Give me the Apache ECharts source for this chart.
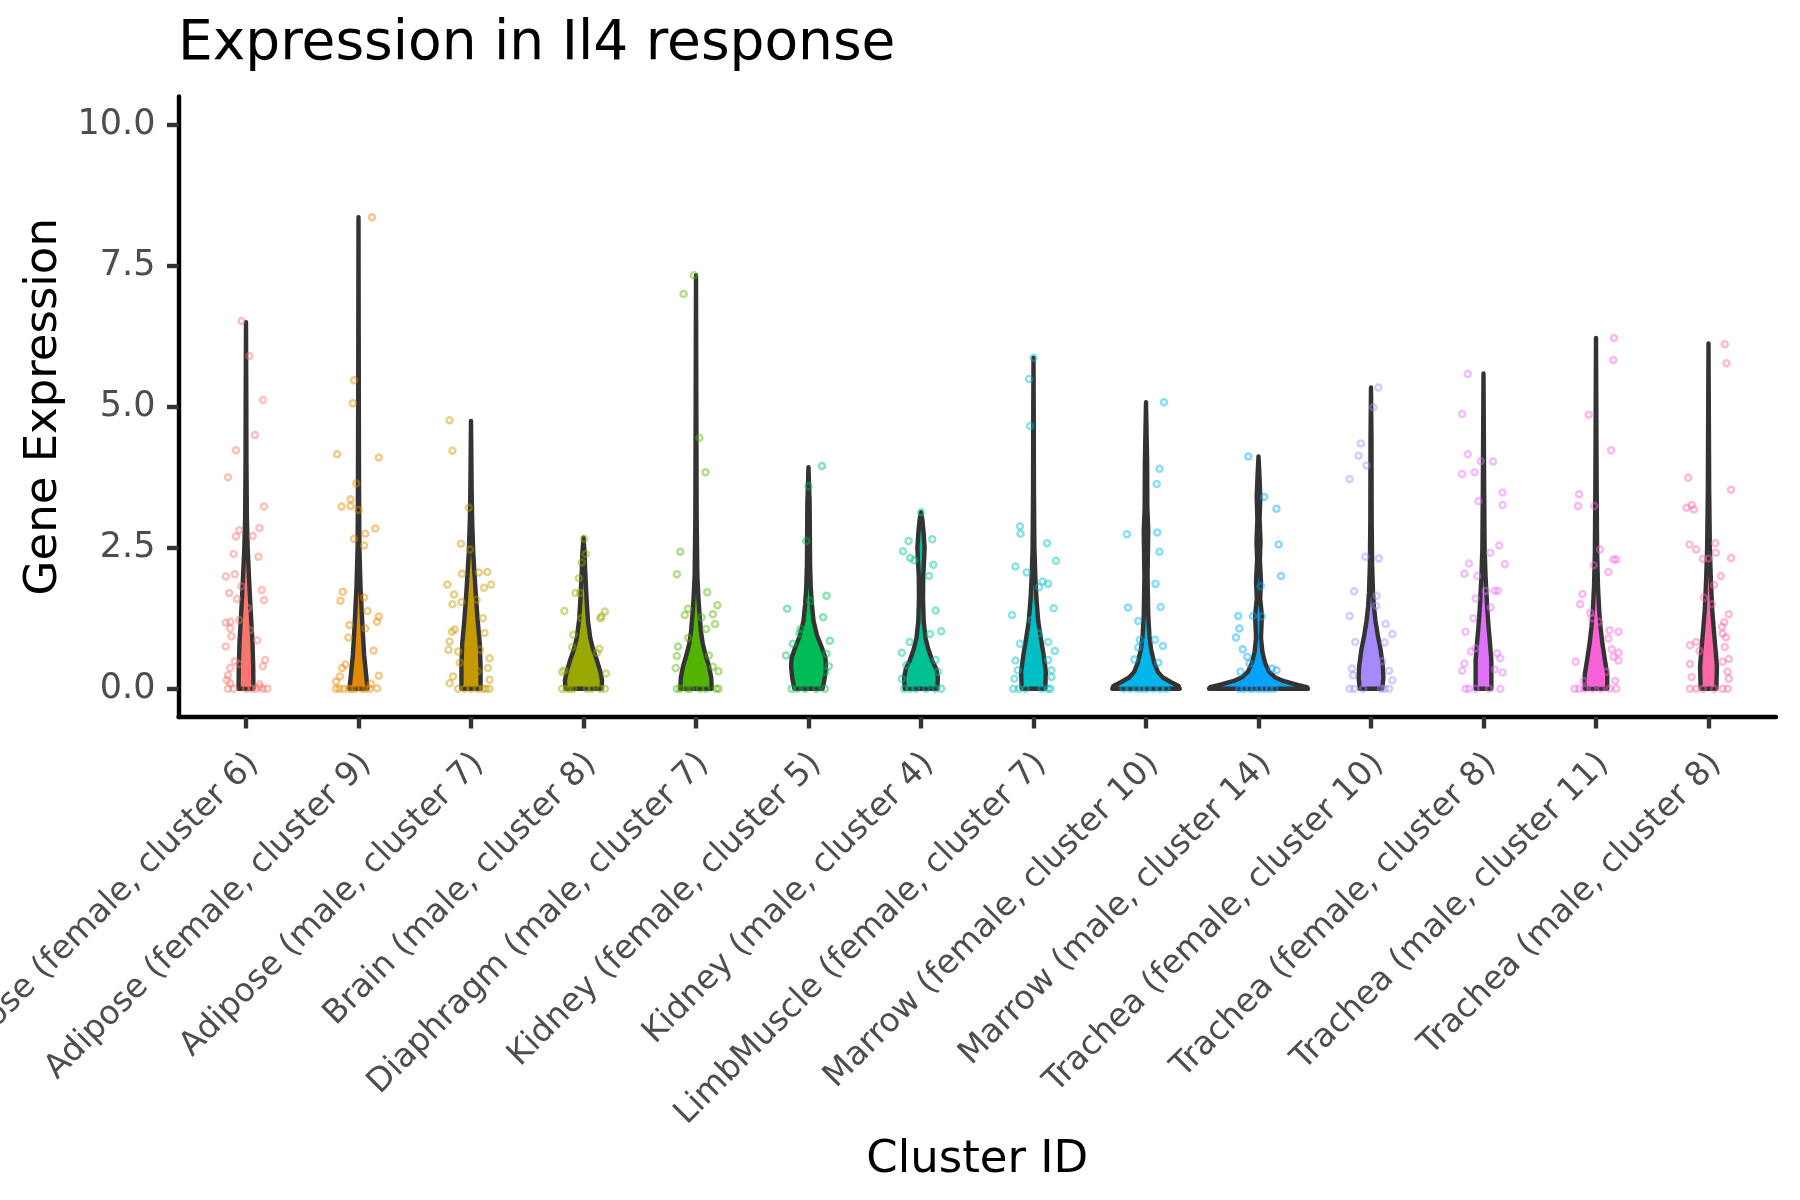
<!DOCTYPE html>
<html>
<head>
<meta charset="utf-8">
<title>Expression in Il4 response</title>
<script src="https://cdn.jsdelivr.net/npm/echarts@6/dist/echarts.min.js"></script>
<style>
html, body { margin: 0; padding: 0; background: #ffffff; }
#chart { width: 1800px; height: 1200px; }
</style>
</head>
<body>
<div id="chart"></div>
<script>
var clusters = [
	'Adipose (female, cluster 6)', 'Adipose (female, cluster 9)', 'Adipose (male, cluster 7)',
	'Brain (male, cluster 8)', 'Diaphragm (male, cluster 7)', 'Kidney (female, cluster 5)',
	'Kidney (male, cluster 4)', 'LimbMuscle (female, cluster 7)', 'Marrow (female, cluster 10)',
	'Marrow (male, cluster 14)', 'Trachea (female, cluster 10)', 'Trachea (female, cluster 8)',
	'Trachea (male, cluster 11)', 'Trachea (male, cluster 8)'
];
var clusterColors = ['#F8766D', '#E38900', '#C49A00', '#99A800', '#53B400', '#00BC56', '#00C094',
	'#00BFC4', '#00B6EB', '#06A4FF', '#A58AFF', '#DF70F8', '#FB61D7', '#FF66A8'];
var yTicks = [0, 2.5, 5, 7.5, 10];

// violin outline: [expression, half width (category units)]
var violinAdiposeF6 = [[0, 0.066], [0.4, 0.064], [0.8, 0.058], [1.2, 0.047], [1.6, 0.036], [2.0, 0.026], [2.5, 0.015], [3.0, 0.008], [4, 0.004], [5, 0.003], [6.5, 0]];
var violinAdiposeF9 = [[0, 0.08], [0.3, 0.065], [0.6, 0.05], [1.0, 0.038], [1.4, 0.028], [1.8, 0.018], [2.5, 0.008], [3.5, 0.005], [5, 0.003], [8.36, 0]];
var violinAdiposeM7 = [[0, 0.085], [0.4, 0.085], [0.8, 0.078], [1.2, 0.06], [1.6, 0.045], [2.0, 0.032], [2.4, 0.02], [3, 0.01], [3.5, 0.006], [4.75, 0]];
var violinBrainM8 = [[0, 0.16], [0.15, 0.165], [0.3, 0.15], [0.5, 0.12], [0.7, 0.085], [0.9, 0.06], [1.2, 0.04], [1.5, 0.03], [1.8, 0.022], [2.1, 0.015], [2.4, 0.01], [2.68, 0]];
var violinDiaphragmM7 = [[0, 0.14], [0.2, 0.135], [0.4, 0.115], [0.6, 0.085], [0.8, 0.06], [1.0, 0.045], [1.3, 0.032], [1.6, 0.022], [2, 0.012], [3, 0.006], [5, 0.003], [7.33, 0]];
var violinKidneyF5 = [[0, 0.125], [0.2, 0.145], [0.4, 0.155], [0.55, 0.15], [0.75, 0.115], [0.95, 0.075], [1.2, 0.045], [1.5, 0.03], [1.8, 0.02], [2.2, 0.014], [2.8, 0.012], [3.3, 0.01], [3.93, 0]];
var violinKidneyM4 = [[0, 0.145], [0.2, 0.15], [0.35, 0.135], [0.5, 0.1], [0.7, 0.065], [0.9, 0.04], [1.2, 0.024], [1.6, 0.018], [2.0, 0.02], [2.3, 0.028], [2.5, 0.032], [2.75, 0.024], [3.0, 0.012], [3.13, 0]];
var violinLimbMuscleF7 = [[0, 0.105], [0.3, 0.11], [0.6, 0.09], [0.9, 0.065], [1.2, 0.042], [1.6, 0.026], [2.0, 0.016], [2.5, 0.008], [3.5, 0.004], [5, 0.002], [5.87, 0]];
var violinMarrowF10 = [[0, 0.3], [0.05, 0.29], [0.12, 0.22], [0.2, 0.15], [0.3, 0.105], [0.45, 0.075], [0.7, 0.045], [0.95, 0.03], [1.3, 0.02], [2, 0.014], [2.8, 0.02], [3.2, 0.012], [4, 0.01], [5.08, 0]];
var violinMarrowM14 = [[0, 0.44], [0.03, 0.43], [0.08, 0.33], [0.14, 0.22], [0.2, 0.15], [0.3, 0.095], [0.45, 0.06], [0.65, 0.035], [0.9, 0.022], [1.3, 0.03], [1.6, 0.015], [1.9, 0.022], [2.3, 0.012], [2.6, 0.018], [3, 0.01], [3.4, 0.016], [3.8, 0.008], [4.12, 0]];
var violinTracheaF10 = [[0, 0.1], [0.2, 0.11], [0.4, 0.105], [0.7, 0.085], [0.95, 0.06], [1.2, 0.04], [1.45, 0.026], [1.7, 0.018], [2.2, 0.01], [3, 0.006], [4.5, 0.004], [5.34, 0]];
var violinTracheaF8 = [[0, 0.07], [0.5, 0.07], [0.8, 0.058], [1.1, 0.045], [1.4, 0.034], [1.7, 0.026], [2.0, 0.018], [2.5, 0.01], [3.5, 0.006], [5.59, 0]];
var violinTracheaM11 = [[0, 0.1], [0.25, 0.1], [0.5, 0.08], [0.8, 0.057], [1.1, 0.04], [1.4, 0.028], [1.8, 0.018], [2.4, 0.01], [3.5, 0.006], [6.22, 0]];
var violinTracheaM8 = [[0, 0.07], [0.4, 0.075], [0.8, 0.058], [1.1, 0.045], [1.4, 0.033], [1.7, 0.026], [2.0, 0.02], [2.5, 0.012], [3.5, 0.006], [6.12, 0]];

// cells: [jitter (category units), expression]
var pointsAdiposeF6 = [[-0.04, 6.52], [0.03, 5.90], [0.15, 5.12], [0.08, 4.50], [-0.09, 4.23], [-0.16, 3.75], [0.16, 3.23], [-0.06, 2.81], [-0.09, 2.70], [0.12, 2.85], [0.06, 2.71], [-0.11, 2.39], [0.11, 2.34], [-0.18, 1.99], [-0.10, 2.03], [-0.15, 1.70], [-0.04, 1.82], [-0.08, 1.59], [0.14, 1.75], [0.16, 1.57],
	[0.02, 1.43], [-0.18, 1.17], [-0.14, 1.19], [-0.06, 1.22], [-0.14, 1.07], [0.035, 1.04], [-0.13, 0.93], [0.10, 0.86], [-0.18, 0.75], [-0.10, 0.49], [0.17, 0.51], [0.15, 0.40], [-0.14, 0.37], [-0.06, 0.44], [-0.16, 0.24], [-0.17, 0.15], [-0.14, 0.10], [0.12, 0.08], [0.12, 0.03],
	[-0.16, 0], [-0.11, 0], [0, 0], [0.05, 0], [0.09, 0], [0.15, 0], [0.19, 0]];
var pointsAdiposeF9 = [[0.12, 8.36], [-0.04, 5.47], [-0.05, 5.06], [-0.19, 4.16], [0.18, 4.10], [-0.02, 3.64], [-0.07, 3.36], [-0.15, 3.23], [-0.07, 3.24], [0, 3.17], [0.15, 2.84], [0.06, 2.75], [-0.04, 2.66], [0.05, 2.54], [-0.14, 1.72], [-0.16, 1.56], [0.05, 1.62], [0.08, 1.38], [0.18, 1.28], [0.165, 1.19],
	[-0.08, 1.13], [0.06, 1.07], [-0.09, 0.91], [0.135, 0.68], [-0.145, 0.37], [-0.115, 0.43], [-0.165, 0.22], [0.18, 0.23], [0.11, 0.09], [-0.2, 0.13], [0.165, 0.01],
	[-0.2, 0], [-0.17, 0], [-0.13, 0], [-0.085, 0], [-0.056, 0], [-0.026, 0], [0.03, 0], [0.06, 0], [0.1, 0]];
var pointsAdiposeM7 = [[-0.19, 4.76], [-0.165, 4.22], [-0.02, 3.21], [-0.09, 2.57], [-0.01, 2.47], [-0.21, 1.85], [-0.08, 2.04], [0.07, 2.06], [0.145, 2.07], [0.18, 1.85], [0.115, 1.79], [-0.15, 1.67], [0.05, 1.58], [-0.165, 1.50], [-0.085, 1.54], [0.105, 1.25], [-0.145, 1.05], [-0.17, 1.01], [0.12, 0.99], [-0.19, 0.84],
	[-0.2, 0.69], [-0.115, 0.66], [0.08, 0.69], [-0.1, 0.46], [0.165, 0.54], [0.15, 0.37], [-0.16, 0.22], [-0.19, 0.1], [0.165, 0.16], [0.06, 0.31],
	[-0.115, 0], [-0.056, 0], [0, 0], [0.06, 0], [0.105, 0], [0.135, 0], [0.165, 0]];
var pointsBrainM8 = [[0.006, 2.66], [0.02, 2.39], [-0.015, 2.24], [-0.04, 1.96], [-0.07, 1.70], [-0.03, 1.70], [-0.17, 1.38], [0.19, 1.37], [0.15, 1.25], [0.16, 1.28], [-0.02, 1.25], [-0.09, 0.96], [-0.10, 0.74], [0.14, 0.71], [0.12, 0.64], [-0.19, 0.30], [-0.17, 0.33], [0.2, 0.27],
	[-0.19, 0], [-0.15, 0], [-0.12, 0], [-0.09, 0], [0.03, 0], [0.07, 0], [0.15, 0], [0.19, 0]];
var pointsDiaphragmM7 = [[-0.02, 7.33], [-0.11, 7.0], [0.03, 4.45], [0.085, 3.84], [-0.14, 2.43], [-0.17, 2.03], [0.1, 1.71], [0.19, 1.48], [-0.07, 1.42], [-0.1, 1.31], [0.15, 1.32], [0.05, 1.27], [0.17, 1.15], [0.09, 1.06], [-0.07, 0.9], [-0.16, 0.75], [-0.17, 0.58], [0.115, 0.59], [-0.18, 0.37], [0.15, 0.39], [0.2, 0.31],
	[-0.17, 0], [-0.14, 0], [-0.08, 0], [-0.05, 0], [0.035, 0], [0.09, 0], [0.18, 0], [0.2, 0]];
var pointsKidneyF5 = [[0.12, 3.95], [0, 3.59], [-0.02, 2.62], [0.16, 1.65], [-0.19, 1.42], [0.015, 1.56], [0.13, 1.27], [-0.07, 1.06], [-0.08, 0.98], [0.19, 0.85], [-0.14, 0.8], [-0.2, 0.59], [0.16, 0.62], [0.18, 0.4], [0.15, 0.3],
	[-0.15, 0], [-0.1, 0], [-0.03, 0], [0.07, 0], [0.145, 0]];
var pointsKidneyM4 = [[0, 3.13], [-0.11, 2.62], [-0.16, 2.44], [0.1, 2.65], [-0.095, 2.32], [-0.06, 2.28], [0.11, 2.2], [0.07, 2.0], [0.13, 1.39], [0.18, 1.02], [0.08, 0.97], [-0.1, 0.83], [-0.17, 0.64], [0.13, 0.51], [0.15, 0.3], [-0.13, 0.42], [-0.17, 0.18],
	[-0.15, 0], [-0.1, 0], [-0.045, 0], [0.045, 0], [0.13, 0], [0.18, 0]];
var pointsLimbMuscleF7 = [[0, 5.87], [-0.04, 5.49], [-0.03, 4.66], [-0.12, 2.88], [-0.115, 2.75], [0.12, 2.58], [0.2, 2.27], [-0.16, 2.17], [-0.06, 2.06], [0.08, 1.9], [0.13, 1.86], [0.05, 1.8], [0.18, 1.43], [-0.19, 1.31], [-0.015, 1.22], [0.045, 0.98], [-0.12, 0.8], [0.13, 0.83], [0.19, 0.67], [-0.16, 0.5], [0.13, 0.51], [-0.14, 0.33], [0.16, 0.33], [-0.17, 0.18], [0.16, 0.21],
	[-0.18, 0], [-0.13, 0], [-0.07, 0], [0.075, 0], [0.13, 0], [0.15, 0]];
var pointsMarrowF10 = [[0.16, 5.08], [0.12, 3.9], [0.095, 3.63], [-0.17, 2.74], [0.1, 2.77], [0.12, 2.43], [0.085, 1.86], [-0.16, 1.44], [0.13, 1.45], [-0.07, 1.2], [-0.055, 0.87], [0.08, 0.87], [0.15, 0.76], [-0.07, 0.73], [-0.105, 0.52], [0.11, 0.46],
	[-0.2, 0], [-0.14, 0], [-0.08, 0], [-0.04, 0], [0.005, 0], [0.065, 0], [0.125, 0], [0.18, 0]];
var pointsMarrowM14 = [[-0.09, 4.12], [0.05, 3.4], [0.16, 3.19], [0.18, 2.56], [0.2, 2.0], [0.02, 1.82], [-0.18, 1.29], [-0.05, 1.29], [0.03, 1.28], [-0.17, 1.07], [-0.2, 0.91], [-0.14, 0.7], [-0.1, 0.57], [-0.08, 0.45], [0.12, 0.36], [0.16, 0.33], [-0.16, 0.3],
	[-0.17, 0], [-0.13, 0], [-0.08, 0], [-0.04, 0], [0.006, 0], [0.05, 0], [0.095, 0], [0.14, 0]];
var pointsTracheaF10 = [[0.065, 5.34], [0.02, 4.99], [-0.09, 4.35], [-0.11, 4.13], [-0.04, 3.96], [-0.19, 3.72], [-0.05, 2.34], [0.07, 2.31], [-0.15, 1.73], [0.05, 1.65], [0.045, 1.47], [-0.19, 1.29], [0.13, 1.15], [0.19, 0.97], [-0.14, 0.83], [0.12, 0.82], [0.1, 0.49], [-0.17, 0.36], [0.16, 0.32], [0.19, 0.15], [-0.16, 0.24],
	[-0.19, 0], [-0.15, 0], [-0.07, 0], [0.09, 0], [0.12, 0], [0.16, 0]];
var pointsTracheaF8 = [[-0.14, 5.58], [-0.19, 4.87], [-0.14, 4.16], [-0.025, 4.04], [0.085, 4.03], [-0.08, 3.84], [-0.19, 3.81], [0.17, 3.48], [-0.045, 3.33], [0.17, 3.26], [0.14, 2.54], [0.06, 2.41], [-0.13, 2.22], [0.19, 2.21], [-0.17, 2.04], [-0.055, 2.0], [0.02, 1.74], [0.1, 1.74], [0.13, 1.74], [-0.07, 1.6],
	[0.065, 1.44], [-0.09, 1.25], [-0.16, 1.01], [-0.07, 0.72], [-0.11, 0.66], [0.12, 0.63], [0.15, 0.54], [-0.17, 0.45], [-0.19, 0.32], [0.1, 0.34], [0.17, 0.29],
	[-0.16, 0], [-0.13, 0], [-0.07, 0], [0.05, 0], [0.15, 0]];
var pointsTracheaM11 = [[0.16, 6.22], [0.155, 5.83], [-0.065, 4.86], [0.135, 4.23], [-0.15, 3.45], [-0.16, 3.24], [-0.015, 3.24], [0.035, 2.47], [-0.02, 2.19], [0.155, 2.29], [0.18, 2.29], [0.11, 2.07], [-0.12, 1.68], [-0.14, 1.5], [-0.05, 1.35], [-0.03, 1.25], [0.025, 1.19], [0.12, 1.04], [0.2, 1.01], [0.11, 0.89],
	[0.14, 0.7], [0.2, 0.64], [0.155, 0.57], [0.2, 0.5], [-0.18, 0.48], [0.09, 0.3], [0.17, 0.14], [-0.11, 0.14],
	[-0.19, 0], [-0.15, 0], [-0.1, 0], [-0.03, 0], [0.045, 0], [0.12, 0], [0.18, 0]];
var pointsTracheaM8 = [[0.145, 6.11], [0.16, 5.77], [-0.18, 3.74], [-0.195, 3.21], [-0.15, 3.26], [-0.13, 3.18], [0.2, 3.53], [-0.17, 2.56], [-0.11, 2.47], [-0.05, 2.3], [0, 2.31], [0.06, 2.58], [0.065, 2.41], [0.2, 2.32], [0.11, 2.0], [0.05, 1.84], [-0.04, 1.62], [0.03, 1.5], [0.18, 1.32], [0.14, 1.18],
	[0.12, 1.1], [0.125, 0.98], [0.155, 0.91], [-0.165, 0.77], [-0.11, 0.83], [-0.08, 0.67], [0.145, 0.74], [0.18, 0.53], [0.125, 0.48], [-0.165, 0.44], [0.17, 0.3], [0.18, 0.18], [-0.15, 0.21],
	[-0.165, 0], [-0.11, 0], [-0.05, 0], [0.05, 0], [0.125, 0], [0.17, 0]];

var violins = [violinAdiposeF6, violinAdiposeF9, violinAdiposeM7, violinBrainM8, violinDiaphragmM7, violinKidneyF5, violinKidneyM4,
	violinLimbMuscleF7, violinMarrowF10, violinMarrowM14, violinTracheaF10, violinTracheaF8, violinTracheaM11, violinTracheaM8];
var points = [pointsAdiposeF6, pointsAdiposeF9, pointsAdiposeM7, pointsBrainM8, pointsDiaphragmM7, pointsKidneyF5, pointsKidneyM4,
	pointsLimbMuscleF7, pointsMarrowF10, pointsMarrowM14, pointsTracheaF10, pointsTracheaF8, pointsTracheaM11, pointsTracheaM8];

var catTicks = clusters.map(function(c, i) { return i; });
var font = 'DejaVu Sans';

var series = [{
	type: 'custom',
	data: violins.map(function(v, i) { return [i]; }),
	z: 2,
	silent: true,
	renderItem: function(params, api) {
		var i = api.value(0);
		var left = [], right = [];
		violins[i].forEach(function(p) {
			left.push(api.coord([i - p[1], p[0]]));
			right.unshift(api.coord([i + p[1], p[0]]));
		});
		return {
			type: 'polygon',
			shape: { points: left.concat(right) },
			style: { fill: clusterColors[i], stroke: '#333333', lineWidth: 4.4, lineJoin: 'round' }
		};
	}
}];

points.forEach(function(pts, i) {
	series.push({
		type: 'scatter',
		data: pts.map(function(p) { return [i + p[0], p[1]]; }),
		symbol: 'circle',
		symbolSize: 6,
		z: 3,
		silent: true,
		itemStyle: { color: 'rgba(255,255,255,0)', borderColor: clusterColors[i], borderWidth: 2.5, opacity: 0.45 }
	});
});

var chart = echarts.init(document.getElementById('chart'));
chart.setOption({
	animation: false,
	backgroundColor: '#ffffff',
	title: {
		text: 'Expression in Il4 response',
		left: 178,
		top: 17,
		padding: 0,
		textStyle: { fontFamily: font, fontSize: 55, fontWeight: 'normal', color: '#000000', lineHeight: 55 }
	},
	grid: { left: 178.5, right: 24, top: 96.5, bottom: 483, outerBoundsMode: 'none' },
	xAxis: {
		type: 'value',
		min: -0.6,
		max: 13.6,
		splitLine: { show: false },
		axisLine: { onZero: false, lineStyle: { color: '#000000', width: 4.4 } },
		axisTick: { customValues: catTicks, length: 11.5, lineStyle: { color: '#333333', width: 4.4 } },
		axisLabel: {
			customValues: catTicks,
			formatter: function(v) { return clusters[Math.round(v)]; },
			rotate: 45,
			align: 'right',
			verticalAlign: 'top',
			margin: 26,
			padding: [0, 6, 0, 0],
			fontFamily: font,
			fontSize: 33,
			color: '#4D4D4D'
		},
		name: 'Cluster ID',
		nameLocation: 'middle',
		nameGap: 387,
		nameTextStyle: { fontFamily: font, fontSize: 45, color: '#000000', lineHeight: 45 }
	},
	yAxis: {
		type: 'value',
		min: -0.5,
		max: 10.5,
		splitLine: { show: false },
		axisLine: { onZero: false, lineStyle: { color: '#000000', width: 4.4 } },
		axisTick: { customValues: yTicks, length: 11.5, lineStyle: { color: '#333333', width: 4.4 } },
		axisLabel: {
			customValues: yTicks,
			formatter: function(v) { return v.toFixed(1); },
			margin: 23,
			fontFamily: font,
			fontSize: 35,
			color: '#4D4D4D'
		},
		name: 'Gene Expression',
		nameLocation: 'middle',
		nameRotate: 90,
		nameGap: 110,
		nameTextStyle: { fontFamily: font, fontSize: 45, color: '#000000', lineHeight: 45 }
	},
	series: series
});
</script>
</body>
</html>
